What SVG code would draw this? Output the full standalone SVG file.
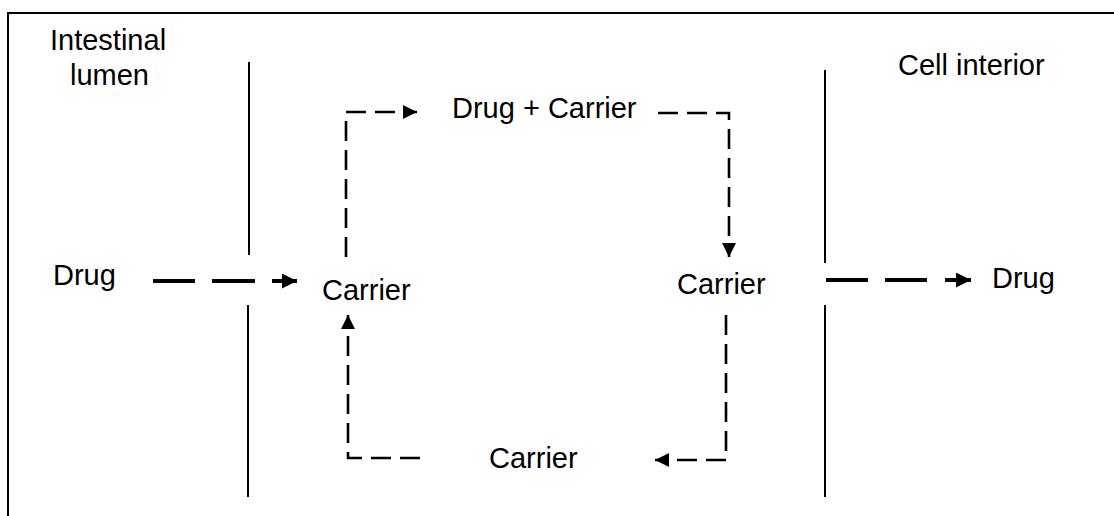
<svg xmlns="http://www.w3.org/2000/svg" width="1114" height="516" viewBox="0 0 1114 516">
<style>
text{font-family:"Liberation Sans",Arial,sans-serif;font-size:29px;fill:#000}
.mem{stroke:#000;stroke-width:2;fill:none}
.thin{stroke:#000;stroke-width:2.6;fill:none;stroke-dasharray:20 9}
.thick{stroke:#000;stroke-width:4;fill:none}
</style>
<defs>
<marker id="ah" viewBox="0 0 10 10" refX="10" refY="5" markerWidth="15" markerHeight="14" markerUnits="userSpaceOnUse" orient="auto">
<path d="M0,0 L10,5 L0,10 Z" fill="#000"/>
</marker>
<marker id="ahb" viewBox="0 0 10 10" refX="10" refY="5" markerWidth="16" markerHeight="15" markerUnits="userSpaceOnUse" orient="auto">
<path d="M0,0 L10,5 L0,10 Z" fill="#000"/>
</marker>
</defs>
<rect x="8" y="13" width="1120" height="520" fill="none" stroke="#000" stroke-width="2"/>
<g id="membranes">
<line class="mem" x1="249" y1="62" x2="249" y2="255"/>
<line class="mem" x1="248" y1="305" x2="248" y2="497"/>
<line class="mem" x1="825" y1="70" x2="825" y2="263"/>
<line class="mem" x1="825" y1="305" x2="825" y2="497"/>
</g>
<g id="labels">
<text x="50" y="50">Intestinal</text>
<text x="70" y="85">lumen</text>
<text x="898" y="75">Cell interior</text>
</g>
<g id="drug-left"><text x="53" y="285">Drug</text></g>
<g id="carrier-left"><text x="322" y="300">Carrier</text></g>
<g id="drug-carrier"><text x="452" y="118">Drug + Carrier</text></g>
<g id="carrier-right"><text x="677" y="294">Carrier</text></g>
<g id="drug-right"><text x="992" y="288">Drug</text></g>
<g id="carrier-bottom"><text x="489" y="468">Carrier</text></g>
<g id="connectors">
<line class="thick" x1="153" y1="281" x2="195" y2="281"/>
<line class="thick" x1="212" y1="281" x2="255" y2="281"/>
<line class="thick" x1="272" y1="281" x2="297" y2="281" marker-end="url(#ahb)"/>
<path class="thin" d="M346,257 V112 H417" marker-end="url(#ah)"/>
<path class="thin" d="M658,113 H729 V257" marker-end="url(#ah)"/>
<path class="thin" d="M726,315 V460 H655" marker-end="url(#ah)"/>
<path class="thin" d="M420,458 H348 V315" marker-end="url(#ah)"/>
<line class="thick" x1="826" y1="280" x2="868" y2="280"/>
<line class="thick" x1="885" y1="280" x2="927" y2="280"/>
<line class="thick" x1="945" y1="280" x2="971" y2="280" marker-end="url(#ahb)"/>
</g>
</svg>
